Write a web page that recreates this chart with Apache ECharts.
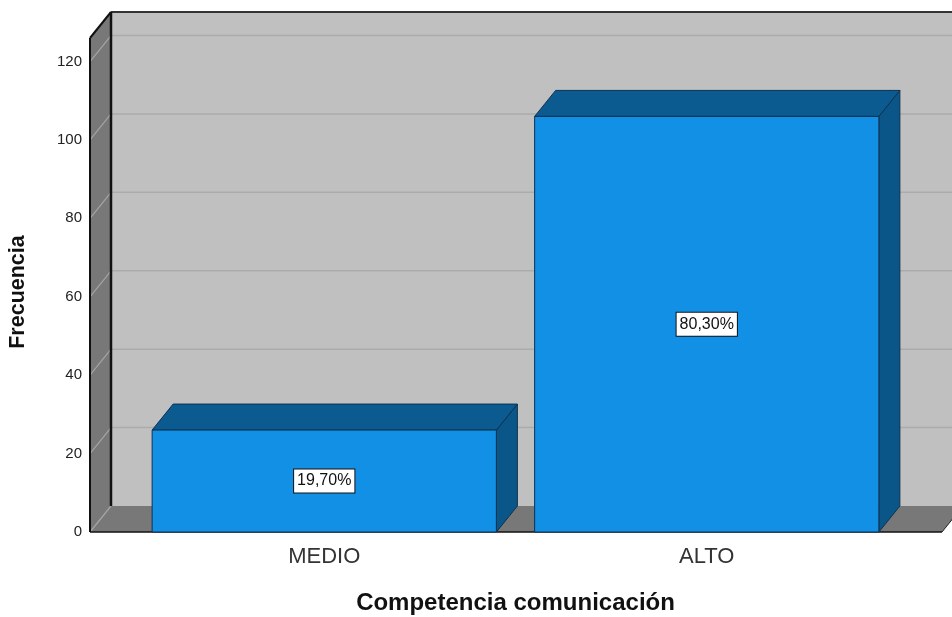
<!DOCTYPE html>
<html><head><meta charset="utf-8">
<script src="https://cdn.jsdelivr.net/npm/echarts@6/dist/echarts.min.js"></script>
<style>html,body{margin:0;padding:0;background:#fff}#c{width:952px;height:617px}</style>
</head><body><div id="c"></div>
<script>
const categories = ['MEDIO', 'ALTO'];
const frequencies = [26, 106];
const percentLabels = ['19,70%', '80,30%'];
const yTicks = [0, 20, 40, 60, 80, 100, 120];
const yMax = 126;
const xTitle = 'Competencia comunicación';
const yTitle = 'Frecuencia';

const DX = 21, DY = -26, AX_OFF = 43;
const FONT = '"Liberation Sans", Arial, sans-serif';

function wallsItem(params, api) {
  const cs = params.coordSys;
  const L = cs.x - AX_OFF;
  const R = cs.x + cs.width + AX_OFF + 1;
  const W = api.getWidth() + 5;
  const floor = api.coord([0, 0])[1];
  const top = api.coord([0, yMax])[1];
  const ch = [];
  ch.push({type: 'rect', shape: {x: L + DX, y: top + DY, width: W - L - DX, height: floor - top}, style: {fill: '#c0c0c0'}});
  ch.push({type: 'polygon', shape: {points: [[L, top], [L + DX, top + DY], [L + DX, floor + DY], [L, floor]]}, style: {fill: '#787878'}});
  ch.push({type: 'polygon', shape: {points: [[L, floor], [L + DX, floor + DY], [R + DX, floor + DY], [R, floor]]}, style: {fill: '#787878'}});
  yTicks.forEach(function (v) {
    const y = api.coord([0, v])[1];
    if (v > 0) ch.push({type: 'line', shape: {x1: L + DX, y1: y + DY, x2: W, y2: y + DY}, style: {stroke: '#ababab', lineWidth: 1.5}});
    ch.push({type: 'line', shape: {x1: L, y1: y, x2: L + DX, y2: y + DY}, style: {stroke: '#a4a4a4', lineWidth: 1.2}});
  });
  ch.push({type: 'line', shape: {x1: L + DX, y1: top + DY, x2: W, y2: top + DY}, style: {stroke: '#333', lineWidth: 2}});
  ch.push({type: 'line', shape: {x1: L + DX, y1: top + DY, x2: L + DX, y2: floor + DY}, style: {stroke: '#111', lineWidth: 2.5}});
  ch.push({type: 'line', shape: {x1: L, y1: top, x2: L + DX, y2: top + DY}, style: {stroke: '#111', lineWidth: 2}});
  ch.push({type: 'line', shape: {x1: L, y1: top, x2: L, y2: floor}, style: {stroke: '#111', lineWidth: 2}});
  ch.push({type: 'line', shape: {x1: L, y1: floor, x2: R, y2: floor}, style: {stroke: '#111', lineWidth: 1.5}});
  ch.push({type: 'line', shape: {x1: R, y1: floor, x2: R + DX, y2: floor + DY}, style: {stroke: '#222', lineWidth: 1}});
  return {type: 'group', children: ch};
}

function barItem(params, api) {
  const idx = api.value(0), val = api.value(1);
  const p = api.coord([idx, val]);
  const b = api.coord([idx, 0]);
  const bw = api.size([1, 0])[0] * 0.9;
  const x1 = p[0] - bw / 2, x2 = p[0] + bw / 2;
  const edge = {stroke: '#0c3350', lineWidth: 1};
  return {type: 'group', children: [
    {type: 'polygon', shape: {points: [[x2, p[1]], [x2 + DX, p[1] + DY], [x2 + DX, b[1] + DY], [x2, b[1]]]}, style: Object.assign({fill: '#0a5688'}, edge)},
    {type: 'polygon', shape: {points: [[x1, p[1]], [x1 + DX, p[1] + DY], [x2 + DX, p[1] + DY], [x2, p[1]]]}, style: Object.assign({fill: '#0b5a90'}, edge)},
    {type: 'rect', shape: {x: x1, y: p[1], width: bw, height: b[1] - p[1]}, style: Object.assign({fill: '#1290e6'}, edge)},
    {type: 'text', x: p[0], y: (p[1] + b[1]) / 2, style: {
      text: percentLabels[idx], align: 'center', verticalAlign: 'middle',
      font: '16px ' + FONT, fill: '#111', backgroundColor: '#fff',
      borderColor: '#111', borderWidth: 1, padding: [4, 3, 3, 3]
    }}
  ]};
}

const chart = echarts.init(document.getElementById('c'));
chart.setOption({
  animation: false,
  backgroundColor: '#fff',
  grid: {left: 133, right: 54, top: 38, bottom: 85, containLabel: false, outerBoundsMode: 'none'},
  xAxis: {
    type: 'category', data: categories,
    axisLine: {show: false}, axisTick: {show: false}, splitLine: {show: false},
    axisLabel: {fontSize: 22, color: '#333', margin: 14, fontFamily: FONT},
    name: xTitle, nameLocation: 'middle', nameGap: 59,
    nameTextStyle: {fontSize: 24, fontWeight: 'bold', color: '#111', fontFamily: FONT}
  },
  yAxis: {
    type: 'value', min: 0, max: yMax, interval: 20, offset: AX_OFF,
    axisLine: {show: false}, axisTick: {show: false}, splitLine: {show: false},
    axisLabel: {fontSize: 15, color: '#222', margin: 8, showMaxLabel: false, fontFamily: FONT,
      padding: [5, 0, 0, 0],
      formatter: function (v) { return yTicks.indexOf(v) >= 0 ? String(v) : ''; }},
    name: yTitle, nameLocation: 'middle', nameGap: 61, nameRotate: 90,
    nameTextStyle: {fontSize: 21.5, fontWeight: 'bold', color: '#111', fontFamily: FONT, padding: [0, 14, 0, 0]}
  },
  series: [
    {type: 'custom', z: 1, silent: true, clip: false, renderItem: wallsItem, data: [[0, 0]]},
    {type: 'custom', z: 2, clip: false, renderItem: barItem,
      data: frequencies.map(function (v, i) { return [i, v]; })}
  ]
});
</script>
</body></html>
